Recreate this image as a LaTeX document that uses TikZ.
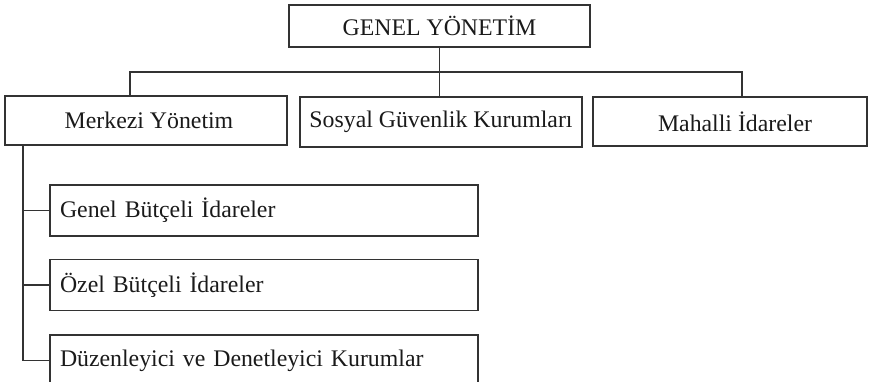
\documentclass[tikz,border=0pt]{standalone}
\usepackage{fontspec}
\setmainfont{Liberation Serif}
\definecolor{ln}{HTML}{333333}
\definecolor{tx}{HTML}{1A1A1A}
\begin{document}
\begin{tikzpicture}[x=1pt,y=-1pt,
  every node/.style={font=\fontsize{23.8}{28}\selectfont, text=tx},
  topbox/.style={draw=ln, line width=1.4pt, rectangle, inner sep=0pt, anchor=center},
  subbox/.style={draw=ln, line width=1.4pt, rectangle, inner xsep=10pt, inner ysep=0pt,
     text width=408pt, align=left, minimum height=51pt, anchor=center},
  conn/.style={draw=ln, line width=1.4pt}]
\useasboundingbox (0,0) rectangle (869,381);
\clip (0,0) rectangle (869,381);
\node[topbox, minimum width=301pt, minimum height=42pt] (gen) at (439.5,26) {GENEL YÖNETİM};
\node[topbox, minimum width=282pt, minimum height=49pt] (merk) at (146,120.5) {\hspace{6pt}Merkezi Yönetim};
\node[topbox, minimum width=282pt, minimum height=50pt] (sos) at (441,122) {Sosyal Güvenlik Kurumları};
\node[topbox, minimum width=274pt, minimum height=49pt] (mah) at (730,121.5) {\hspace{10pt}Mahalli İdareler};
\node[subbox] (gb) at (264,210.5) {Genel Bütçeli İdareler};
\node[subbox] (ob) at (264,285) {Özel Bütçeli İdareler};
\node[subbox] (dd) at (264,360.5) {Düzenleyici ve Denetleyici Kurumlar};
\coordinate (jl) at (130,72);
\coordinate (jr) at (742,72);
\coordinate (sp) at (23,145);
\draw[conn] (jl |- merk.north) -- (jl) -- (jr) -- (jr |- mah.north);
\draw[conn] (gen.south) -- (gen.south |- sos.north);
\draw[conn] (sp |- merk.south) |- (dd.west);
\draw[conn] (sp |- gb.west) -- (gb.west);
\draw[conn] (sp |- ob.west) -- (ob.west);
\end{tikzpicture}
\end{document}
